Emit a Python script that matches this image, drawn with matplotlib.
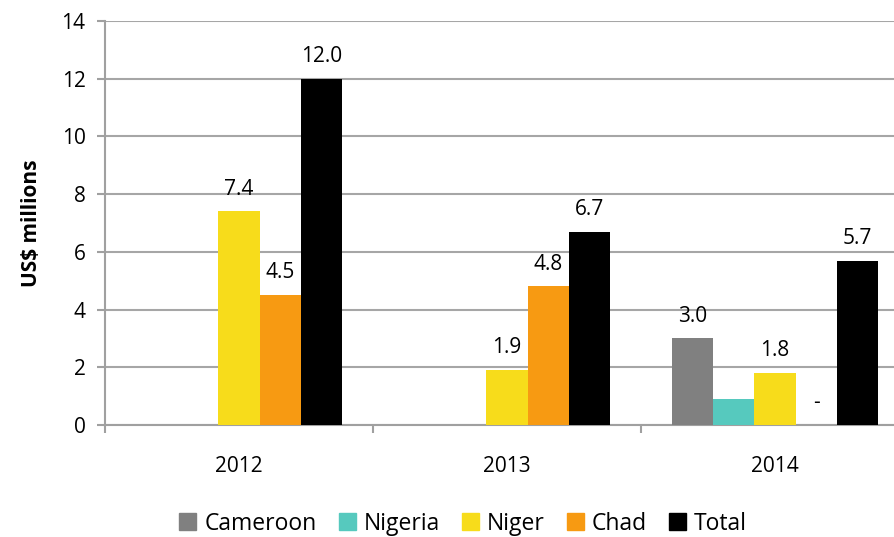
import numpy as np
import matplotlib.pyplot as plt
from matplotlib.patches import Patch

plt.rcParams['font.family'] = ['Open Sans', 'DejaVu Sans']

# data
years = ['2012', '2013', '2014']
series = ['Cameroon', 'Nigeria', 'Niger', 'Chad', 'Total']
cameroon = [0, 0, 3.0]
nigeria = [0, 0, 0.9]
niger = [7.4, 1.9, 1.8]
chad = [4.5, 4.8, 0]
total = [12.0, 6.7, 5.7]
labels = [
    ['', '', '3.0'],
    ['', '', ''],
    ['7.4', '1.9', '1.8'],
    ['4.5', '4.8', '-'],
    ['12.0', '6.7', '5.7'],
]
colors = ['#808080', '#56C9BE', '#F7DC1B', '#F79A12', '#000000']

values = [cameroon, nigeria, niger, chad, total]

fig = plt.figure(figsize=(8.94, 5.37), dpi=100)
ax = fig.add_axes([105 / 894, 112 / 537, 804 / 894, 404 / 537])

centers = np.arange(len(years)) + 0.5
bw = 0.154
for i, (name, vals) in enumerate(zip(series, values)):
    xs = centers + (i - 2) * bw
    bars = ax.bar(xs, vals, width=bw, color=colors[i], label=name, zorder=3)
    for b, lab in zip(bars, labels[i]):
        if lab:
            ax.annotate(lab, (b.get_x() + b.get_width() / 2, b.get_height()),
                        xytext=(0, 8.5), textcoords='offset points',
                        ha='center', va='bottom', fontsize=15, color='black')

ax.set_xlim(0, 3)
ax.set_ylim(0, 14)
ax.set_yticks(np.arange(0, 15, 2))
ax.tick_params(axis='y', labelsize=15, length=6, color='#a0a0a0', width=1.5, pad=8,
               labelcolor='black')
ax.set_xticks([0, 1, 2, 3])
ax.set_xticklabels([])
ax.tick_params(axis='x', which='major', length=6, color='#a0a0a0', width=1.5)
ax.set_xticks(centers, minor=True)
ax.set_xticklabels(years, minor=True)
ax.tick_params(axis='x', which='minor', length=0, labelsize=15, pad=22, labelcolor='black')

ax.grid(axis='y', color='#a6a6a6', linewidth=1.5, zorder=0)
ax.set_axisbelow(True)
for s in ['top', 'right']:
    ax.spines[s].set_visible(False)
ax.spines['left'].set_color('#a0a0a0')
ax.spines['bottom'].set_color('#a0a0a0')
ax.spines['left'].set_linewidth(1.5)
ax.spines['bottom'].set_linewidth(1.5)

ax.set_ylabel('US$ millions', fontsize=15, fontweight='bold', labelpad=14)

handles = [Patch(color=c, label=n) for n, c in zip(series, colors)]
fig.legend(handles=handles, loc='center', bbox_to_anchor=(0.518, 0.025), ncol=5,
           frameon=False, fontsize=16.5, handlelength=0.75, handleheight=0.75,
           handletextpad=0.35, columnspacing=0.95)

fig.savefig('out.png', dpi=100)
